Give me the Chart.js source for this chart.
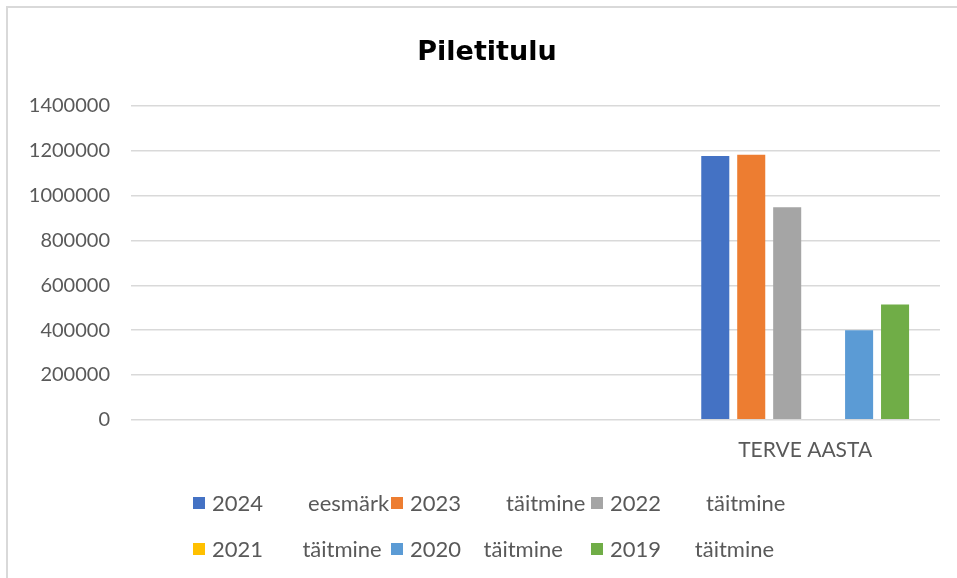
<!DOCTYPE html>
<html lang="et">
<head>
<meta charset="UTF-8" />
<title>Piletitulu</title>
<script src="https://cdn.jsdelivr.net/npm/chart.js@4.4.1/dist/chart.umd.min.js"></script>
<style>
  html, body { margin: 0; padding: 0; background: #fff; }
  canvas { display: block; }
</style>
</head>
<body>
<canvas id="chart" width="957" height="578"></canvas>
<script>
const chartTitle = "Piletitulu";

// categories (the first two are empty in the source sheet)
const categories = ["", "", "TERVE AASTA"];

// series labels (spacing as in the Excel legend)
const seriesLabels = [
  "2024        eesmärk",
  "2023        täitmine",
  "2022        täitmine",
  "2021       täitmine",
  "2020    täitmine",
  "2019      täitmine"
];

// values per series
const v2024 = [null, null, 1177000];
const v2023 = [null, null, 1182000];
const v2022 = [null, null, 948000];
const v2021 = [null, null, null];
const v2020 = [null, null, 399000];
const v2019 = [null, null, 514000];

const seriesColors = ["#4472C4", "#ED7D31", "#A5A5A5", "#FFC000", "#5B9BD5", "#70AD47"];

const yTicks = { min: 0, max: 1400000, step: 200000 };

const FONT = "Lato, 'Open Sans', sans-serif";

// title sits a bit right of the canvas centre in the excel export
const titleBlock = {
  id: "titleBlock",
  afterDraw(chart) {
    const ctx = chart.ctx;
    ctx.save();
    ctx.font = "bold 27px 'DejaVu Sans', sans-serif";
    ctx.fillStyle = "#000";
    ctx.textAlign = "center";
    ctx.textBaseline = "alphabetic";
    ctx.fillText(chartTitle, 487, 60);
    ctx.restore();
  }
};

// excel style legend: fixed grid of 3 columns x 2 rows
const gridLegend = {
  id: "gridLegend",
  afterDraw(chart) {
    const ctx = chart.ctx;
    const cols = [193, 391, 591];
    const rows = [503, 549];
    ctx.save();
    ctx.font = "22px " + FONT;
    ctx.textBaseline = "middle";
    ctx.textAlign = "left";
    chart.data.datasets.forEach((ds, i) => {
      const x = cols[i % 3];
      const y = rows[Math.floor(i / 3)];
      ctx.fillStyle = ds.backgroundColor;
      ctx.fillRect(x, y - 6, 12, 12);
      ctx.fillStyle = "#595959";
      ctx.fillText(ds.label, x + 19, y + 1);
    });
    ctx.restore();
  }
};

// light frame on the top and left like the cropped excel chart
const frame = {
  id: "frame",
  beforeDraw(chart) {
    const ctx = chart.ctx;
    ctx.save();
    ctx.strokeStyle = "#d9d9d9";
    ctx.lineWidth = 2;
    ctx.beginPath();
    ctx.moveTo(7, chart.height);
    ctx.lineTo(7, 7);
    ctx.lineTo(chart.width, 7);
    ctx.stroke();
    ctx.restore();
  }
};

const seriesValues = [v2024, v2023, v2022, v2021, v2020, v2019];

new Chart(document.getElementById("chart"), {
  type: "bar",
  data: {
    labels: categories,
    datasets: seriesValues.map((vals, i) => ({
      label: seriesLabels[i],
      data: vals,
      backgroundColor: seriesColors[i],
      borderWidth: 0,
      categoryPercentage: 0.8,
      barPercentage: 0.78
    }))
  },
  options: {
    responsive: false,
    animation: false,
    layout: { padding: { left: 20, right: 17, top: 106, bottom: 105 } },
    plugins: {
      legend: { display: false },
      tooltip: { enabled: false },
      title: { display: false }
    },
    scales: {
      x: {
        grid: { display: false },
        border: { display: false },
        ticks: { color: "#595959", font: { family: FONT, size: 21 }, padding: 10 }
      },
      y: {
        min: yTicks.min,
        max: yTicks.max,
        border: { display: false },
        grid: { color: "#d9d9d9", lineWidth: 1.5, drawTicks: false },
        ticks: {
          stepSize: yTicks.step,
          color: "#595959",
          font: { family: FONT, size: 20 },
          padding: 21,
          callback: (v) => String(v)
        },
        afterFit(scale) { scale.width = 111; }
      }
    }
  },
  plugins: [frame, titleBlock, gridLegend]
});
</script>
</body>
</html>
